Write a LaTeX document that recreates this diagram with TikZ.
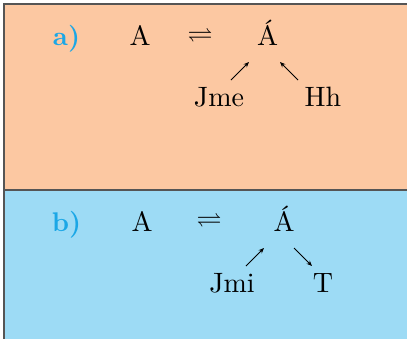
\documentclass[tikz,border=0pt]{standalone}
\usepackage{amssymb}
\usepackage{fontspec}
\newfontfamily\tenrm{lmroman10-regular.otf}[BoldFont=lmroman10-bold.otf]
\usetikzlibrary{arrows.meta}
\definecolor{peach}{HTML}{FCC8A2}
\definecolor{skyb}{HTML}{9DDBF5}
\definecolor{lab}{HTML}{1BA7E6}
\definecolor{frame}{HTML}{555555}
\begin{document}
\begin{tikzpicture}[x=1pt,y=-1pt,
  txt/.style={font=\tenrm\fontsize{28}{32}\selectfont, inner sep=0pt, anchor=base},
  lbl/.style={font=\tenrm\fontsize{27}{30}\selectfont\bfseries, text=lab, inner sep=0pt, anchor=base},
  eq/.style={font=\fontsize{25}{28}\selectfont, inner sep=0pt},
  arr/.style={-{Stealth[length=5.5pt,width=4.5pt]}, line width=0.9pt}]
\useasboundingbox (0,0) rectangle (407,338);
\fill[peach] (4,4) rectangle (410,190);
\fill[skyb] (4,190) rectangle (410,342);
\draw[frame, line width=1.6pt] (410,4) -- (4,4) -- (4,342);
\draw[frame, line width=1.6pt] (4,190) -- (410,190);
% panel a
\node[lbl] (la) at (66.5,45) {a)};
\node[txt] (a1) at (140,45.5) {A};
\node[eq] (e1) at (200,35) {$\rightleftharpoons$};
\node[txt] (a2) at (267.5,45.5) {\'A};
\node[txt] (jme) at (219,106) {Jme};
\node[txt] (hh) at (323,106) {Hh};
\coordinate (p1) at (231,80); \coordinate (q1) at (249,62);
\coordinate (p2) at (298,80); \coordinate (q2) at (280,62);
\draw[arr] (p1) -- (q1);
\draw[arr] (p2) -- (q2);
% panel b
\node[lbl] (lb) at (66.5,231) {b)};
\node[txt] (b1) at (142,231.5) {A};
\node[eq] (e2) at (209,220) {$\rightleftharpoons$};
\node[txt] (b2) at (284,231.5) {\'A};
\node[txt] (jmi) at (232,292) {Jmi};
\node[txt] (t) at (323,292) {T};
\coordinate (p3) at (246,266); \coordinate (q3) at (264,248);
\coordinate (p4) at (294,248); \coordinate (q4) at (312,266);
\draw[arr] (p3) -- (q3);
\draw[arr] (p4) -- (q4);
\end{tikzpicture}
\end{document}
